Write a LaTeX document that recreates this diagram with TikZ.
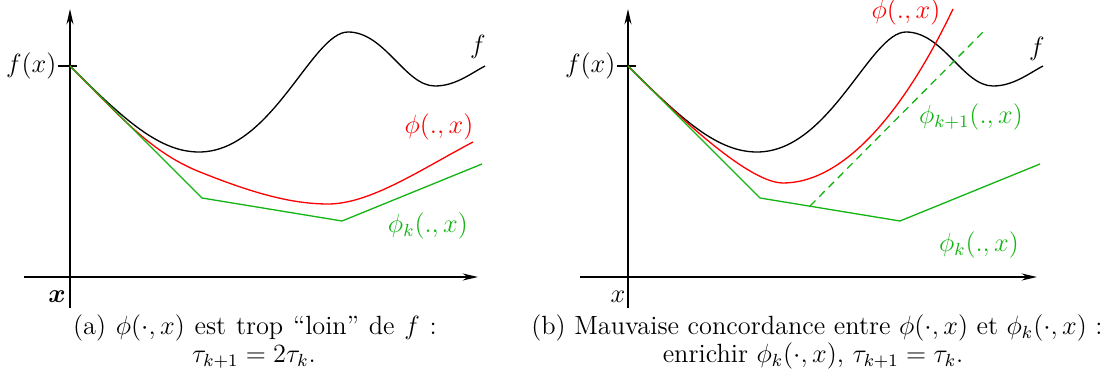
\documentclass[tikz,border=0pt]{standalone}
\usepackage{amsmath}
\usepackage{amssymb}
\usepackage{tikz}
\usepackage{xcolor}
\usetikzlibrary{arrows.meta,positioning,calc}
\definecolor{phigreen}{RGB}{20,180,20}

\begin{document}
\begin{tikzpicture}[x=0.016cm, y=-0.016cm, line width=0.6pt,
  axis/.style={-{Stealth[length=7pt,width=3.2pt]}},
  lbl/.style={font=\large, inner sep=0pt},
  captxt/.style={font=\large, anchor=base, inner sep=0pt},
  fcurve/.style={black},
  phicurve/.style={red},
  modelcurve/.style={phigreen},
  cutplane/.style={phigreen, dash pattern=on 3.5pt off 2.5pt}]

\useasboundingbox (0,0) rectangle (1117,383);

% Panel (a): axes
\coordinate (xaL) at (24,277);
\coordinate (xaR) at (478,277);
\coordinate (yaB) at (70,308);
\coordinate (yaT) at (70,9);
\draw[axis] (xaL) -- (xaR);
\draw[axis] (yaB) -- (yaT);
\draw (58,66) -- (77,66);
\node[lbl, anchor=east] (fxa) at (57,66) {$f(x)$};
\node[lbl] (xa) at (57,297) {$\boldsymbol{x}$};

% Panel (a): curves
\draw[fcurve] (70,66) .. controls (125,121) and (160,152) .. (199,152)
  .. controls (272,152) and (312,32) .. (348,32)
  .. controls (385,32) and (405,86) .. (435,86)
  .. controls (455,86) and (470,74) .. (485,66);
\draw[phicurve] (70,66) .. controls (120,116) and (150,152) .. (200,172)
  .. controls (250,192) and (290,204) .. (328,204)
  .. controls (370,204) and (420,170) .. (473,142);
\draw[modelcurve] (70,66) -- (202,198) -- (342,221) -- (482,164);
\node[lbl] (fa) at (478,47) {$f$};
\node[lbl, red] (phia) at (439,127) {$\phi(.,x)$};
\node[lbl, phigreen] (phika) at (428,226) {$\phi_k(.,x)$};

% Panel (a): caption
\node[captxt, text depth=0pt] (capa1) at (255,335) {\makebox[5.82cm][s]{(a) $\phi(\cdot,x)$ est trop ``loin'' de $f$ :}};
\node[captxt] (capa2) at (254,363) {$\tau_{k+1} = 2\tau_k$.};

% Panel (b): axes
\coordinate (xbL) at (580,277);
\coordinate (xbR) at (1037,277);
\coordinate (ybB) at (628,308);
\coordinate (ybT) at (628,9);
\draw[axis] (xbL) -- (xbR);
\draw[axis] (ybB) -- (ybT);
\draw (617,66) -- (636,66);
\node[lbl, anchor=east] (fxb) at (616,66) {$f(x)$};
\node[lbl] (xb) at (618,297) {$x$};

% Panel (b): curves
\draw[fcurve] (628,66) .. controls (683,121) and (718,152) .. (757,152)
  .. controls (830,152) and (870,32) .. (906,32)
  .. controls (943,32) and (963,86) .. (993,86)
  .. controls (1013,86) and (1028,74) .. (1043,66);
\draw[phicurve] (628,66) .. controls (653,91) and (743,183) .. (783,183)
  .. controls (840,183) and (900,120) .. (953,9);
\draw[modelcurve] (628,66) -- (760,198) -- (900,221) -- (1040,164);
\draw[cutplane] (810,206) -- (983,32);
\node[lbl] (fb) at (1037,49) {$f$};
\node[lbl, red] (phib) at (906,12) {$\phi(.,x)$};
\node[lbl, phigreen] (phik1b) at (971,117) {$\phi_{k+1}(.,x)$};
\node[lbl, phigreen] (phikb) at (979,245) {$\phi_k(.,x)$};

% Panel (b): caption
\node[captxt, text depth=0pt] (capb1) at (817,335) {(b) Mauvaise concordance entre $\phi(\cdot,x)$ et $\phi_k(\cdot,x)$ :};
\node[captxt] (capb2) at (813,363) {enrichir $\phi_k(\cdot,x)$, $\tau_{k+1} = \tau_k$.};

\end{tikzpicture}
\end{document}
